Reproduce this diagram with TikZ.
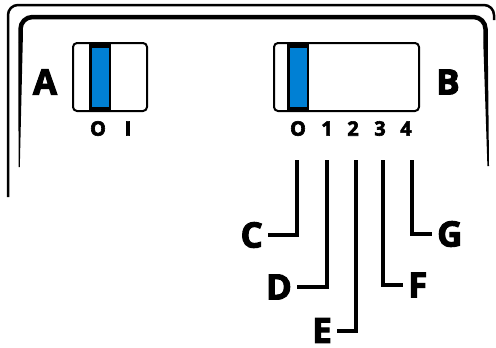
\documentclass[tikz,border=0pt]{standalone}
\usepackage{fontspec}
\setmainfont{Open Sans}[BoldFeatures={FakeBold=3}]
\definecolor{slideblue}{HTML}{0080D4}
\begin{document}
\begin{tikzpicture}[x=1bp,y=-1bp,
  frame/.style={line width=2.5bp},
  swbox/.style={draw=black,line width=2bp,rounded corners=4bp},
  slider/.style={fill=black},
  knob/.style={fill=slideblue},
  big/.style={font=\fontsize{35}{35}\selectfont\bfseries,inner sep=0pt},
  digit/.style={font=\fontsize{20}{20}\selectfont\bfseries,inner sep=0pt},
  lab/.style={big,inner xsep=5bp,inner ysep=0pt},
  conn/.style={line width=4bp}]
\useasboundingbox (0,0) rectangle (496,347);
% outer frame
\draw[frame,rounded corners=10bp] (8,197) -- (8,5) -- (494,5) -- (494,20);
% inner frame (thick top, tapering sides)
\draw[line width=4.5bp,rounded corners=12bp] (20.5,42) -- (20.5,17) -- (485.5,17) -- (485.5,42);
\fill (18.25,42) -- (22.75,42) -- (19.8,167) -- (18.6,167) -- cycle;
\fill (483.25,42) -- (487.75,42) -- (489,166) -- (487.4,166) -- cycle;
% switch A
\draw[swbox] (73,43) rectangle (147,111);
\fill[slider] (89,43) rectangle (111,111);
\fill[knob] (91.5,47.5) rectangle (108.5,106.5);
\node[big] (A) at (45,82) {A};
\node[digit] (a0) at (98,128.5) {O};
\node[digit] (a1) at (128,128.5) {I};
% switch B
\draw[swbox] (274,43) rectangle (419,111);
\fill[slider] (287,43) rectangle (309,111);
\fill[knob] (289.5,47.5) rectangle (306.5,106.5);
\node[big] (B) at (448,82) {B};
\node[digit] (b0) at (298,128.5) {O};
\node[digit] (b1) at (327,128.5) {1};
\node[digit] (b2) at (353,128.5) {2};
\node[digit] (b3) at (380,128.5) {3};
\node[digit] (b4) at (406,128.5) {4};
% connectors
\coordinate (tc) at (297,160);
\coordinate (td) at (327,160);
\coordinate (te) at (356,160);
\coordinate (tf) at (383,160);
\coordinate (tg) at (412,160);
\node[lab,anchor=east] (C) at (268,235) {C};
\node[lab,anchor=east] (D) at (297,287) {D};
\node[lab,anchor=east] (E) at (337,330.5) {E};
\node[lab,anchor=west] (F) at (403,285) {F};
\node[lab,anchor=west] (G) at (432,234) {G};
\draw[conn] (tc) |- (C.east);
\draw[conn] (td) |- (D.east);
\draw[conn] (te) |- (E.east);
\draw[conn] (tf) |- (F.west);
\draw[conn] (tg) |- (G.west);
\end{tikzpicture}
\end{document}
